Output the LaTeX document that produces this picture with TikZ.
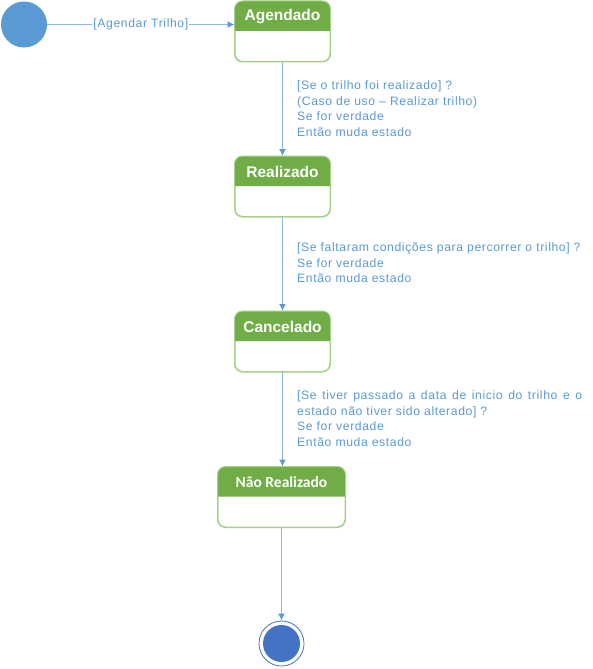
\documentclass[tikz,border=0pt]{standalone}
\usepackage{fontspec}
\setmainfont{Liberation Sans}
\newfontfamily\calfont{Carlito}
\newfontfamily\lblfont[LetterSpace=5]{Liberation Sans}
\usetikzlibrary{arrows.meta,calc}
\definecolor{hdrgreen}{HTML}{70AD47}
\definecolor{bordgreen}{HTML}{A9D18E}
\definecolor{lblblue}{HTML}{5B9BD5}
\definecolor{lineblue}{HTML}{8FB8E0}
\definecolor{finalblue}{HTML}{4472C4}
\tikzset{
  statebox/.style={draw=bordgreen, line width=1pt, rounded corners=8pt, fill=white,
    minimum width=95pt, minimum height=60pt, inner sep=0pt},
  hdrtext/.style={text=white, font=\fontsize{15.5}{18}\selectfont\bfseries, inner sep=0pt},
  conn/.style={draw=lineblue, line width=1.2pt, -{Latex[length=7pt,width=7pt,fill=lblblue,color=lblblue]}},
  guard/.style={text=lblblue, font=\lblfont\fontsize{12.2}{15.7}\selectfont, align=left, inner sep=0pt, anchor=north west},
}
\newcommand{\hdr}[1]{%
  \fill[hdrgreen] ($(#1.north west)+(0,30)$) [rounded corners=8pt] -- (#1.north west) -- (#1.north east) [sharp corners] -- ($(#1.north east)+(0,30)$) -- cycle;
  \draw[bordgreen, line width=1pt, rounded corners=8pt] (#1.south west) rectangle (#1.north east);
}
\begin{document}
\begin{tikzpicture}[x=1pt,y=-1pt]
\useasboundingbox[fill=white] (0,0) rectangle (593,669);
% initial
\node[circle, fill=lblblue, minimum size=46pt, inner sep=0pt] (init) at (24,24.5) {};
% states
\node[statebox] (s1) at (282.5,31.5) {};
\node[statebox] (s2) at (282.5,186.5) {};
\node[statebox] (s3) at (282.5,341.5) {};
\node[statebox, minimum width=127pt] (s4) at (281.5,497) {};
\hdr{s1}\hdr{s2}\hdr{s3}\hdr{s4}
\node[hdrtext] (t1) at (282.5,16.5) {Agendado};
\node[hdrtext] (t2) at (282.5,171.5) {Realizado};
\node[hdrtext] (t3) at (282.5,326.5) {Cancelado};
\node[hdrtext, font=\fontsize{15.5}{18}\calfont\bfseries] (t4) at (281.5,482) {Não Realizado};
% final
\node[circle, draw=finalblue, line width=0.8pt, fill=white, minimum size=45pt, inner sep=0pt] (fin) at (281.5,643.5) {};
\node[circle, fill=finalblue, minimum size=37pt, inner sep=0pt] (finin) at (fin) {};
% connectors
\draw[conn] (init) -- node[fill=white, text=lblblue, font=\lblfont\fontsize{12.2}{14}\selectfont, inner sep=1pt] (l0) {[Agendar Trilho]} (s1.west |- init);
\draw[conn] (s1.south -| t1) -- (s2.north -| t2);
\draw[conn] (s2.south -| t2) -- (s3.north -| t3);
\draw[conn] (s3.south -| t3) -- (s4.north -| t3);
\draw[conn] (s4.south -| fin) -- (fin.north);
% guards
\node[guard] (g1) at (297,80.5) {[Se o trilho foi realizado] ?\\(Caso de uso – Realizar trilho)\\Se for verdade\\Então muda estado};
\node[guard] (g2) at (297,242.5) {[Se faltaram condições para percorrer o trilho] ?\\Se for verdade\\Então muda estado};
\node[guard] (g3) at (297,390.5) {\makebox[285pt][s]{[Se tiver passado a data de inicio do trilho e o}\\estado não tiver sido alterado] ?\\Se for verdade\\Então muda estado};
\end{tikzpicture}
\end{document}
